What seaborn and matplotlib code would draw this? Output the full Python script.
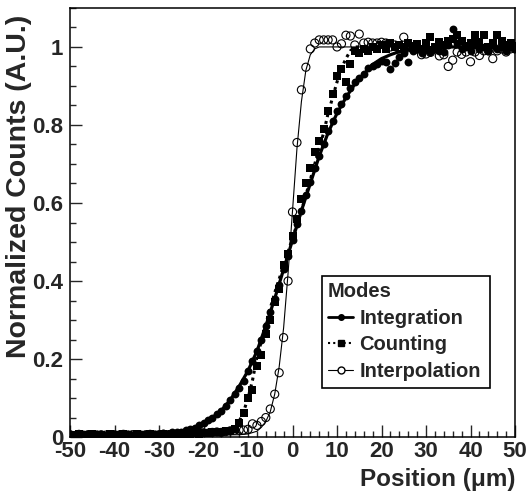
import numpy as np
import pandas as pd
import matplotlib
matplotlib.use("Agg")
import matplotlib.pyplot as plt
import seaborn as sns
from matplotlib.lines import Line2D
from matplotlib.patches import Rectangle
from matplotlib.ticker import MultipleLocator, FuncFormatter

# =============================================================================
# Data
# =============================================================================
position = np.arange(-50, 51)  # um, one point per micron

integration = [
    0.008, 0.006, 0.007, 0.005, 0.009, 0.006, 0.007, 0.004, 0.006, 0.008,
    0.005, 0.007, 0.006, 0.008, 0.005, 0.007, 0.009, 0.006, 0.008, 0.007,
    0.008, 0.010, 0.009, 0.012, 0.014, 0.013, 0.017, 0.020, 0.024, 0.030,
    0.036, 0.043, 0.050, 0.058, 0.068, 0.080, 0.095, 0.110, 0.125, 0.145,
    0.170, 0.195, 0.220, 0.250, 0.285, 0.320, 0.355, 0.390, 0.430, 0.465,
    0.505, 0.545, 0.580, 0.620, 0.655, 0.690, 0.720, 0.750, 0.785, 0.810,
    0.835, 0.855, 0.875, 0.895, 0.910, 0.920, 0.930, 0.945, 0.950, 0.955,
    0.965, 0.962, 0.943, 0.960, 0.975, 0.985, 0.962, 0.990, 0.995, 0.985,
    1.000, 0.987, 0.995, 0.990, 0.987, 1.005, 1.046, 1.010, 0.995, 1.000,
    0.990, 1.005, 0.995, 1.000, 0.990, 1.005, 0.995, 1.000, 0.990, 1.000,
    0.995,
]

counting = [
    0.006, 0.004, 0.007, 0.005, 0.006, 0.008, 0.005, 0.006, 0.004, 0.007,
    0.006, 0.005, 0.007, 0.006, 0.004, 0.008, 0.006, 0.005, 0.007, 0.006,
    0.006, 0.007, 0.005, 0.008, 0.006, 0.007, 0.009, 0.008, 0.010, 0.009,
    0.011, 0.010, 0.012, 0.014, 0.013, 0.016, 0.015, 0.020, 0.036, 0.062,
    0.100, 0.120, 0.183, 0.210, 0.265, 0.300, 0.345, 0.380, 0.440, 0.470,
    0.515, 0.560, 0.610, 0.650, 0.690, 0.730, 0.758, 0.790, 0.835, 0.880,
    0.925, 0.943, 0.910, 0.956, 0.990, 0.985, 0.995, 0.990, 1.000, 0.995,
    1.005, 0.995, 1.010, 1.000, 1.005, 1.000, 1.010, 1.003, 1.008, 0.995,
    1.010, 1.025, 1.000, 1.012, 1.005, 1.015, 1.020, 1.030, 1.015, 1.003,
    1.010, 1.030, 1.012, 1.030, 1.000, 1.010, 1.030, 1.015, 1.005, 1.010,
    1.003,
]

interpolation = [
    0.006, 0.004, 0.007, 0.005, 0.006, 0.004, 0.005, 0.006, 0.005, 0.004,
    0.006, 0.005, 0.007, 0.005, 0.006, 0.005, 0.004, 0.006, 0.007, 0.005,
    0.006, 0.007, 0.006, 0.008, 0.007, 0.008, 0.009, 0.008, 0.010, 0.009,
    0.011, 0.010, 0.012, 0.013, 0.012, 0.014, 0.016, 0.018, 0.018, 0.018,
    0.020, 0.034, 0.030, 0.040, 0.050, 0.072, 0.110, 0.165, 0.255, 0.400,
    0.577, 0.755, 0.890, 0.948, 0.995, 1.010, 1.018, 1.018, 1.018, 1.018,
    1.000, 1.008, 1.030, 1.028, 1.005, 1.033, 1.010, 1.012, 1.010, 1.010,
    1.012, 1.010, 1.000, 1.005, 0.995, 1.025, 0.998, 1.000, 0.995, 0.980,
    0.982, 0.986, 0.995, 0.977, 0.980, 0.950, 0.966, 0.987, 0.981, 0.987,
    0.962, 0.987, 0.978, 0.990, 0.990, 0.970, 0.990, 0.995, 0.987, 0.995,
    0.995,
]

# fitted edge curves, sampled by eye
fit_int_x = [-50, -30, -26, -24, -22, -20, -18, -16, -14, -12, -10, -8, -6, -4, -2,
             0, 2, 4, 6, 8, 10, 12, 14, 16, 18, 20, 22, 24, 26, 28, 30, 35, 50]
fit_int_y = [0.005, 0.007, 0.012, 0.017, 0.025, 0.035, 0.050, 0.068, 0.095, 0.130,
             0.170, 0.220, 0.285, 0.355, 0.430, 0.505, 0.580, 0.650, 0.720, 0.780,
             0.830, 0.870, 0.905, 0.930, 0.955, 0.970, 0.980, 0.988, 0.993, 0.996,
             0.998, 1.000, 1.000]

fit_cnt_x = [-50, -16, -14, -13, -12, -11, -10, -9, -8, -7, -6, -5, -4, -2,
             0, 2, 4, 6, 7, 8, 9, 10, 11, 12, 13, 14, 50]
fit_cnt_y = [0.005, 0.006, 0.012, 0.022, 0.040, 0.065, 0.100, 0.145, 0.205, 0.245,
             0.290, 0.330, 0.370, 0.440, 0.510, 0.580, 0.660, 0.740, 0.780, 0.830,
             0.870, 0.910, 0.945, 0.970, 0.990, 1.000, 1.000]

fit_itp_x = [-50, -12, -10, -8, -7, -6, -5, -4, -3, -2, -1, 0, 1, 2, 3, 4, 5, 6, 8, 50]
fit_itp_y = [0.005, 0.006, 0.008, 0.015, 0.025, 0.040, 0.065, 0.110, 0.180, 0.280,
             0.420, 0.580, 0.740, 0.860, 0.940, 0.980, 0.995, 1.000, 1.000, 1.000]

df = pd.DataFrame({"Position": position, "Integration": integration,
                   "Counting": counting, "Interpolation": interpolation})

# =============================================================================
# Plot
# =============================================================================
sns.set_style("ticks")
plt.rcParams['font.family'] = ['Liberation Sans', 'DejaVu Sans']
plt.rcParams['font.weight'] = 'bold'
plt.rcParams['axes.unicode_minus'] = False

fig = plt.figure(figsize=(5.28, 4.95), dpi=100)
ax = fig.add_axes([0.1326, 0.117, 0.8428, 0.867])

# fits
sns.lineplot(x=fit_itp_x, y=fit_itp_y, ax=ax, color='k', lw=0.8, estimator=None)
sns.lineplot(x=fit_cnt_x, y=fit_cnt_y, ax=ax, color='k', lw=2.2, estimator=None,
             linestyle=(0, (1, 1.3)))
sns.lineplot(x=fit_int_x, y=fit_int_y, ax=ax, color='k', lw=2.3, estimator=None)

# data points
sns.scatterplot(data=df, x="Position", y="Interpolation", ax=ax, marker='o', s=34,
                facecolor='none', edgecolor='k', linewidth=0.8, zorder=3)
sns.scatterplot(data=df, x="Position", y="Counting", ax=ax, marker='s', s=30,
                color='k', edgecolor='k', linewidth=0, zorder=4)
sns.scatterplot(data=df, x="Position", y="Integration", ax=ax, marker='o', s=32,
                color='k', edgecolor='k', linewidth=0, zorder=5)

ax.set_xlim(-50, 50)
ax.set_ylim(0, 1.1)
ax.xaxis.set_major_locator(MultipleLocator(10))
ax.xaxis.set_minor_locator(MultipleLocator(2))
ax.yaxis.set_major_locator(MultipleLocator(0.2))
ax.yaxis.set_minor_locator(MultipleLocator(0.05))
ax.yaxis.set_major_formatter(FuncFormatter(lambda v, p: '%g' % round(v, 2)))

ax.tick_params(which='major', direction='in', length=8.5, width=1.0,
               labelsize=16, top=False, right=False)
ax.tick_params(which='minor', direction='in', length=4.3, width=1.0,
               top=False, right=False)
ax.tick_params(axis='y', pad=5)
ax.tick_params(axis='x', pad=3)
for sp in ax.spines.values():
    sp.set_linewidth(1.1)
    sp.set_color('k')

ax.set_xlabel('Position (μm)', fontsize=17.5, fontweight='bold', loc='right', labelpad=4)
ax.set_ylabel('Normalized Counts (A.U.)', fontsize=20.5, fontweight='bold', loc='top')
ax.yaxis.set_label_coords(-0.085, 0.984)

# legend box drawn like the ROOT one (fixed size)
ax.add_patch(Rectangle((0.566, 0.114), 0.378, 0.261, transform=ax.transAxes,
                       facecolor='white', edgecolor='k', lw=1.2, zorder=6))
handles = [
    Line2D([], [], color='k', lw=2.0, marker='o', ms=4),
    Line2D([], [], color='k', lw=1.5, ls=(0, (1, 1.5)), marker='s', ms=4),
    Line2D([], [], color='k', lw=0.8, marker='o', ms=5, mfc='white'),
]
leg = ax.legend(handles, ['Integration', 'Counting', 'Interpolation'], title='Modes',
                loc='upper left', bbox_to_anchor=(0.566, 0.375), frameon=False,
                fontsize=14.5, title_fontproperties={'weight': 'bold', 'size': 14.5},
                alignment='left', handlelength=1.25, handletextpad=0.3,
                borderpad=0.3, labelspacing=0.38, borderaxespad=0)
leg.set_zorder(7)

fig.savefig('out.png', dpi=100)
